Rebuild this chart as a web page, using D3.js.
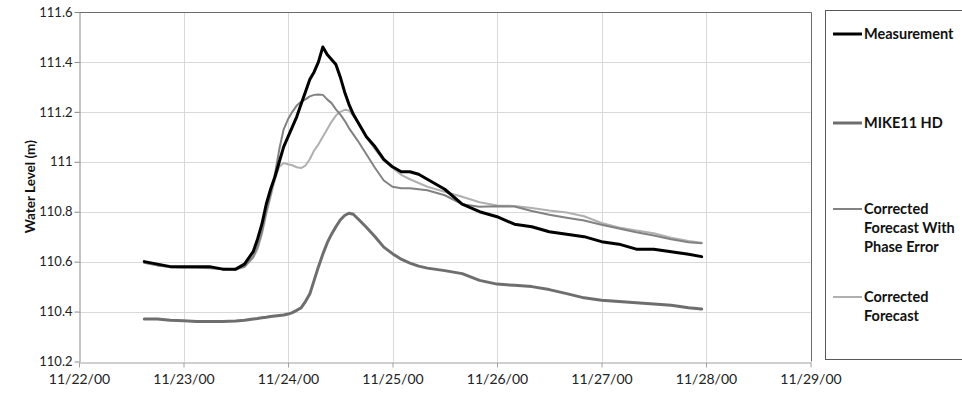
<!DOCTYPE html>
<html>
<head>
<meta charset="utf-8">
<script src="https://cdn.jsdelivr.net/npm/d3@7"></script>
<style>
  html, body { margin: 0; padding: 0; background: #fff; }
  svg { display: block; font-family: Lato, "Open Sans", sans-serif; }
</style>
</head>
<body>
<svg id="chart" width="962" height="398"></svg>
<script>
// Observation times (UTC) shared by every series
const timeStamps = [
  "2000-11-22T15:00", "2000-11-22T18:00", "2000-11-22T21:00", "2000-11-23T00:00",
  "2000-11-23T03:00", "2000-11-23T06:00", "2000-11-23T09:00", "2000-11-23T12:00",
  "2000-11-23T14:00", "2000-11-23T16:00", "2000-11-23T17:00", "2000-11-23T18:00",
  "2000-11-23T19:00", "2000-11-23T20:00", "2000-11-23T21:00", "2000-11-23T22:00",
  "2000-11-23T23:00", "2000-11-24T00:00", "2000-11-24T01:00", "2000-11-24T02:00",
  "2000-11-24T03:00", "2000-11-24T04:00", "2000-11-24T05:00", "2000-11-24T06:00",
  "2000-11-24T07:00", "2000-11-24T08:00", "2000-11-24T09:00", "2000-11-24T10:00",
  "2000-11-24T11:00", "2000-11-24T12:00", "2000-11-24T13:00", "2000-11-24T14:00",
  "2000-11-24T15:00", "2000-11-24T16:00", "2000-11-24T18:00", "2000-11-24T20:00",
  "2000-11-24T22:00", "2000-11-25T00:00", "2000-11-25T02:00", "2000-11-25T04:00",
  "2000-11-25T06:00", "2000-11-25T08:00", "2000-11-25T12:00", "2000-11-25T16:00",
  "2000-11-25T20:00", "2000-11-26T00:00", "2000-11-26T04:00", "2000-11-26T08:00",
  "2000-11-26T12:00", "2000-11-26T16:00", "2000-11-26T20:00", "2000-11-27T00:00",
  "2000-11-27T04:00", "2000-11-27T08:00", "2000-11-27T12:00", "2000-11-27T16:00",
  "2000-11-27T20:00", "2000-11-27T23:00"
];

// Water levels (m)
const measurement = [
  110.60, 110.59, 110.58, 110.58, 110.58, 110.58, 110.57, 110.57,
  110.59, 110.64, 110.69, 110.75, 110.83, 110.89, 110.94, 111.00,
  111.06, 111.10, 111.14, 111.18, 111.23, 111.28, 111.33, 111.36,
  111.40, 111.46, 111.43, 111.41, 111.39, 111.34, 111.28, 111.23,
  111.19, 111.16, 111.10, 111.06, 111.01, 110.98, 110.96, 110.96,
  110.95, 110.93, 110.89, 110.83, 110.80, 110.78, 110.75, 110.74,
  110.72, 110.71, 110.70, 110.68, 110.67, 110.65, 110.65, 110.64,
  110.63, 110.62
];
const mike11HD = [
  110.370, 110.370, 110.365, 110.363, 110.360, 110.360, 110.360, 110.362,
  110.365, 110.370, 110.372, 110.375, 110.377, 110.380, 110.382, 110.384,
  110.386, 110.390, 110.396, 110.405, 110.415, 110.440, 110.470, 110.525,
  110.580, 110.630, 110.675, 110.710, 110.740, 110.767, 110.785, 110.794,
  110.790, 110.773, 110.738, 110.700, 110.658, 110.632, 110.610, 110.594,
  110.582, 110.574, 110.564, 110.552, 110.525, 110.510, 110.505, 110.500,
  110.488, 110.472, 110.455, 110.445, 110.440, 110.435, 110.430, 110.425,
  110.415, 110.410
];
const correctedPhaseError = [
  110.595, 110.585, 110.580, 110.578, 110.578, 110.575, 110.572, 110.570,
  110.580, 110.620, 110.660, 110.720, 110.800, 110.870, 110.950, 111.050,
  111.130, 111.170, 111.200, 111.225, 111.240, 111.250, 111.262, 111.268,
  111.270, 111.268, 111.250, 111.235, 111.210, 111.190, 111.165, 111.135,
  111.110, 111.085, 111.030, 110.975, 110.925, 110.900, 110.894, 110.894,
  110.890, 110.886, 110.866, 110.830, 110.820, 110.822, 110.821, 110.803,
  110.788, 110.776, 110.765, 110.748, 110.733, 110.718, 110.705, 110.690,
  110.678, 110.674
];
const correctedForecast = [
  110.595, 110.585, 110.578, 110.576, 110.576, 110.574, 110.570, 110.568,
  110.578, 110.615, 110.650, 110.710, 110.790, 110.860, 110.930, 110.980,
  110.995, 110.990, 110.986, 110.978, 110.975, 110.985, 111.010, 111.045,
  111.070, 111.100, 111.130, 111.160, 111.185, 111.200, 111.208, 111.205,
  111.185, 111.160, 111.100, 111.050, 111.005, 110.975, 110.948, 110.930,
  110.915, 110.900, 110.880, 110.860, 110.838, 110.825, 110.823, 110.815,
  110.805, 110.797, 110.782, 110.755, 110.737, 110.725, 110.714, 110.696,
  110.683, 110.676
];

const yTicks = [110.2, 110.4, 110.6, 110.8, 111, 111.2, 111.4, 111.6];
const xTicks = ["2000-11-22", "2000-11-23", "2000-11-24", "2000-11-25",
                "2000-11-26", "2000-11-27", "2000-11-28", "2000-11-29"];

const parseTime = d3.utcParse("%Y-%m-%dT%H:%M");
const parseDay = d3.utcParse("%Y-%m-%d");
const dates = timeStamps.map(parseTime);
const dayTicks = xTicks.map(parseDay);

const plot = { left: 79, right: 810.5, top: 12, bottom: 361.5 };

const x = d3.scaleUtc()
  .domain([dayTicks[0], dayTicks[dayTicks.length - 1]])
  .range([plot.left, plot.right]);
const y = d3.scaleLinear()
  .domain([110.2, 111.6])
  .range([plot.bottom, plot.top]);

const svg = d3.select("#chart");

// Gridlines
const grid = svg.append("g").attr("stroke", "#d9d9d9").attr("stroke-width", 1);
grid.selectAll("line.h").data(yTicks.slice(1, -1)).join("line")
  .attr("x1", plot.left).attr("x2", plot.right)
  .attr("y1", d => Math.round(y(d)) + 0.5).attr("y2", d => Math.round(y(d)) + 0.5);
grid.selectAll("line.v").data(dayTicks.slice(1, -1)).join("line")
  .attr("y1", plot.top).attr("y2", plot.bottom)
  .attr("x1", d => Math.round(x(d)) + 0.5).attr("x2", d => Math.round(x(d)) + 0.5);

// Plot frame (top and right)
svg.append("path")
  .attr("d", `M${plot.left},${plot.top + 0.5}H${Math.round(plot.right) + 0.5}V${plot.bottom}`)
  .attr("fill", "none").attr("stroke", "#6b6b6b").attr("stroke-width", 1);

// Axes
const fmtDay = d3.utcFormat("%m/%d/%y");
const xAxis = svg.append("g")
  .attr("transform", `translate(0,${Math.round(plot.bottom) + 0.5})`)
  .call(d3.axisBottom(x).tickValues(dayTicks).tickFormat(fmtDay).tickSize(5).tickSizeOuter(0));
xAxis.attr("font-family", null);
xAxis.select(".domain").attr("stroke", "#a0a0a0");
xAxis.selectAll(".tick line").attr("stroke", "#a0a0a0");
xAxis.selectAll("text").attr("y", 21).attr("dy", 0)
  .attr("font-size", 14).attr("fill", "#222");

const yAxis = svg.append("g")
  .attr("transform", `translate(${plot.left + 0.5},0)`)
  .call(d3.axisLeft(y).tickValues(yTicks).tickFormat(d => String(+d.toFixed(1))).tickSize(5).tickPadding(2).tickSizeOuter(0));
yAxis.attr("font-family", null);
yAxis.select(".domain").attr("stroke", "#8a8a8a");
yAxis.selectAll(".tick line").attr("stroke", "#8a8a8a");
yAxis.selectAll("text").attr("font-size", 13).attr("fill", "#222");

svg.append("text")
  .attr("transform", `translate(35,${(plot.top + plot.bottom) / 2}) rotate(-90)`)
  .attr("text-anchor", "middle")
  .attr("font-size", 13.5).attr("font-weight", "bold").attr("fill", "#111")
  .text("Water Level (m)");

// Series
const styles = [
  { values: measurement, color: "#000000", width: 3 },
  { values: mike11HD, color: "#6e6e6e", width: 3 },
  { values: correctedPhaseError, color: "#828282", width: 2 },
  { values: correctedForecast, color: "#b0b0b0", width: 2 }
];
const line = d3.line().x((d, i) => x(dates[i])).y(d => y(d));
const drawOrder = [3, 2, 1, 0];
svg.append("g").selectAll("path").data(drawOrder.map(i => styles[i])).join("path")
  .attr("d", s => line(s.values))
  .attr("fill", "none")
  .attr("stroke", s => s.color)
  .attr("stroke-width", s => s.width)
  .attr("stroke-linejoin", "round")
  .attr("stroke-linecap", "round");

// Legend
const legend = svg.append("g");
legend.append("rect")
  .attr("x", 825.5).attr("y", 10.5).attr("width", 200).attr("height", 349)
  .attr("fill", "#fff").attr("stroke", "#595959").attr("stroke-width", 1);

const legendRows = [
  { lines: ["Measurement"], y: 34 },
  { lines: ["MIKE11 HD"], y: 123 },
  { lines: ["Corrected", "Forecast With", "Phase Error"], y: 209 },
  { lines: ["Corrected", "Forecast"], y: 297 }
];
legendRows.forEach((row, i) => {
  const s = styles[i];
  legend.append("line")
    .attr("x1", 833).attr("x2", 862)
    .attr("y1", row.y).attr("y2", row.y)
    .attr("stroke", s.color).attr("stroke-width", s.width);
  const t = legend.append("text")
    .attr("x", 864).attr("y", row.y)
    .attr("font-size", 14.5).attr("font-weight", "bold").attr("fill", "#111");
  row.lines.forEach((ln, j) => {
    t.append("tspan").attr("x", 864).attr("dy", j === 0 ? "0.35em" : 19).text(ln);
  });
});
</script>
</body>
</html>
